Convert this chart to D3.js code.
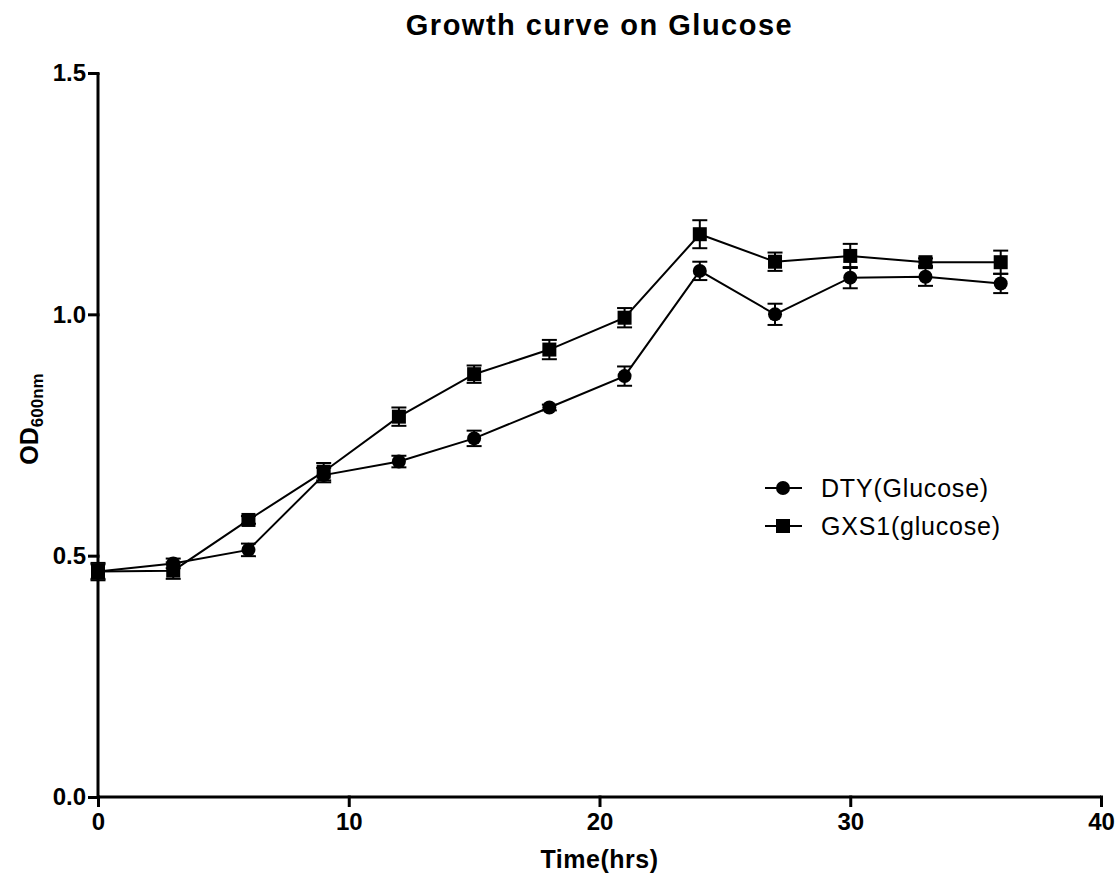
<!DOCTYPE html>
<html>
<head>
<meta charset="utf-8">
<script src="https://cdn.jsdelivr.net/npm/d3@7"></script>
<style>
  html, body { margin: 0; padding: 0; background: #fff; }
  svg { display: block; font-family: "Liberation Sans", Arial, Helvetica, sans-serif; }
</style>
</head>
<body>
<svg id="chart" width="1119" height="877"></svg>
<script>
// Sampling times (hours)
const times = [0, 3, 6, 9, 12, 15, 18, 21, 24, 27, 30, 33, 36];

// DTY on glucose: mean OD600 and SEM
const dtyMean = [0.467, 0.484, 0.512, 0.667, 0.695, 0.743, 0.807, 0.872, 1.090, 1.000, 1.076, 1.078, 1.064];
const dtyErr  = [0.015, 0.010, 0.013, 0.015, 0.012, 0.016, 0.006, 0.020, 0.019, 0.022, 0.022, 0.019, 0.020];

// GXS1 on glucose: mean OD600 and SEM
const gxsMean = [0.467, 0.469, 0.574, 0.674, 0.788, 0.876, 0.927, 0.993, 1.166, 1.109, 1.121, 1.108, 1.108];
const gxsErr  = [0.018, 0.017, 0.008, 0.018, 0.019, 0.018, 0.020, 0.020, 0.029, 0.019, 0.025, 0.008, 0.024];

const xTicks = [0, 10, 20, 30, 40];
const yTicks = [0.0, 0.5, 1.0, 1.5];

const seriesNames = ["DTY(Glucose)", "GXS1(glucose)"];

const svg = d3.select("#chart");
const x = d3.scaleLinear().domain([0, 40]).range([98, 1101]);
const y = d3.scaleLinear().domain([0, 1.5]).range([797, 73]);

// Title
svg.append("text")
  .attr("x", (x.range()[0] + x.range()[1]) / 2)
  .attr("y", 35)
  .attr("text-anchor", "middle")
  .attr("font-size", 29)
  .attr("font-weight", "bold")
  .attr("letter-spacing", 1.5)
  .text("Growth curve on Glucose");

// Axes
const xAxis = svg.append("g")
  .attr("transform", `translate(0,${y(0)})`)
  .call(d3.axisBottom(x).tickValues(xTicks).tickFormat(d3.format("d")).tickSize(10).tickPadding(6));
const yAxis = svg.append("g")
  .attr("transform", `translate(${x(0)},0)`)
  .call(d3.axisLeft(y).tickValues(yTicks).tickFormat(d3.format(".1f")).tickSize(10).tickPadding(2));

[xAxis, yAxis].forEach(g => {
  g.attr("font-size", 24).attr("font-family", null);
  g.select(".domain").attr("stroke", "#000").attr("stroke-width", 3)
    .attr("d", g === xAxis ? `M${x(0)},0H${x(40)}` : `M0,${y(0)}V${y(1.5)}`);
  g.selectAll(".tick line").attr("stroke", "#000").attr("stroke-width", 3);
  g.selectAll(".tick text")
    .attr("fill", "#000")
    .style("font-size", "24px")
    .style("font-weight", "bold");
});
// extend the ticks so they overlap the thick axis line
xAxis.selectAll(".tick line").attr("y1", -1.5);
yAxis.selectAll(".tick line").attr("x1", 1.5);

// Axis titles
svg.append("text")
  .attr("x", x(20))
  .attr("y", 868)
  .attr("text-anchor", "middle")
  .attr("font-size", 25)
  .attr("font-weight", "bold")
  .attr("letter-spacing", 0.5)
  .text("Time(hrs)");

const yTitle = svg.append("text")
  .attr("transform", "translate(38,419) rotate(-90)")
  .attr("text-anchor", "middle")
  .attr("font-weight", "bold");
yTitle.append("tspan").attr("font-size", 25).text("OD");
yTitle.append("tspan").attr("font-size", 17).attr("dy", 5).text("600nm");

// Data series
const series = [
  { name: seriesNames[0], mean: dtyMean, err: dtyErr, shape: "circle" },
  { name: seriesNames[1], mean: gxsMean, err: gxsErr, shape: "square" }
];

const line = d3.line().x(d => x(d.t)).y(d => y(d.v));
const capHalf = 7.5;

function drawMarker(g, shape, cx, cy) {
  if (shape === "circle") {
    g.append("circle").attr("cx", cx).attr("cy", cy).attr("r", 7).attr("fill", "#000");
  } else {
    g.append("rect").attr("x", cx - 7).attr("y", cy - 7).attr("width", 14).attr("height", 14).attr("fill", "#000");
  }
}

series.forEach(s => {
  const pts = times.map((t, i) => ({ t, v: s.mean[i], e: s.err[i] }));
  const g = svg.append("g");
  g.append("path").datum(pts).attr("d", line)
    .attr("fill", "none").attr("stroke", "#000").attr("stroke-width", 2);
  // error bars
  pts.forEach(p => {
    const cx = x(p.t), top = y(p.v + p.e), bot = y(p.v - p.e);
    g.append("line").attr("x1", cx).attr("x2", cx).attr("y1", top).attr("y2", bot)
      .attr("stroke", "#000").attr("stroke-width", 2);
    [top, bot].forEach(yy => g.append("line")
      .attr("x1", cx - capHalf).attr("x2", cx + capHalf).attr("y1", yy).attr("y2", yy)
      .attr("stroke", "#000").attr("stroke-width", 2));
  });
  pts.forEach(p => drawMarker(g, s.shape, x(p.t), y(p.v)));
});

// Legend
const legend = svg.append("g");
series.forEach((s, i) => {
  const cy = 488 + i * 38;
  legend.append("line").attr("x1", 765).attr("x2", 802).attr("y1", cy).attr("y2", cy)
    .attr("stroke", "#000").attr("stroke-width", 2);
  drawMarker(legend, s.shape, 783, cy);
  legend.append("text").attr("x", 821).attr("y", cy + 9)
    .attr("font-size", 25).attr("letter-spacing", 0.8)
    .text(s.name);
});
</script>
</body>
</html>
